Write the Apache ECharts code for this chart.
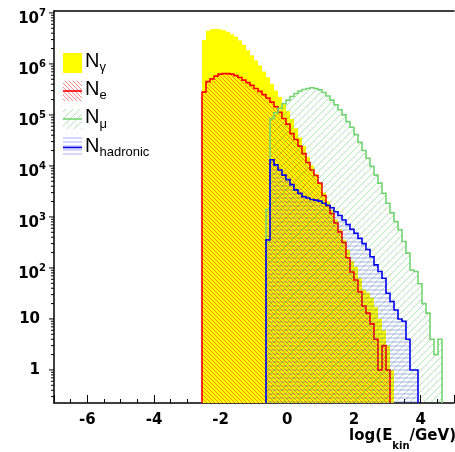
<!DOCTYPE html>
<html>
<head>
<meta charset="utf-8">
<script src="https://cdn.jsdelivr.net/npm/echarts@6/dist/echarts.min.js"></script>
<style>
  html, body { margin: 0; padding: 0; background: #ffffff; }
  #chart { width: 455px; height: 452px; }
</style>
</head>
<body>
<div id="chart"></div>
<script>
// Binning of the kinetic-energy histograms: 100 bins in log10(E_kin/GeV) from -7 to 5
const binLow = -7;
const binWidth = 0.12;

// Particle counts per bin; each list starts at its "first bin" index
const gammaFirstBin = 37;
const gammaCounts = [
  2.95e6, 4.47e6, 4.79e6, 4.90e6, 4.79e6, 4.57e6, 4.27e6, 3.80e6, 3.39e6, 2.88e6,
  2.34e6, 1.86e6, 1.48e6, 1.17e6, 9.3e5, 7.1e5, 5.5e5, 4.1e5, 3.0e5, 2.24e5,
  1.66e5, 1.20e5, 8.3e4, 5.5e4, 3.6e4, 2.45e4, 1.51e4, 1.02e4, 6900, 4700,
  3000, 2040, 1380, 890, 575, 363, 229, 138, 105, 63,
  38, 33, 26, 17, 10, 6, 3, 1
];

const electronFirstBin = 37;
const electronCounts = [
  2.8e5, 4.5e5, 5.1e5, 5.75e5, 6.3e5, 6.45e5, 6.45e5, 6.3e5, 5.9e5, 5.4e5,
  4.8e5, 4.3e5, 3.8e5, 3.3e5, 2.9e5, 2.5e5, 2.14e5, 1.78e5, 1.45e5, 1.12e5,
  8.5e4, 6.6e4, 4.3e4, 3.3e4, 2.45e4, 1.74e4, 1.17e4, 8300, 6500, 4600,
  2630, 1660, 1170, 760, 510, 316, 158, 83, 58, 34,
  18, 13, 8, 4, 1, 3, 1
];

const muonFirstBin = 53;
const muonCounts = [
  1400, 8.5e4, 1.1e5, 1.35e5, 1.66e5, 1.95e5, 2.3e5, 2.63e5, 2.95e5, 3.16e5,
  3.3e5, 3.4e5, 3.3e5, 3.1e5, 2.75e5, 2.35e5, 1.95e5, 1.58e5, 1.26e5, 1.0e5,
  7.4e4, 5.75e4, 4.1e4, 2.9e4, 2.0e4, 1.41e4, 9800, 6600, 4600, 2900,
  1860, 1200, 810, 560, 330, 195, 91, 85, 49, 20,
  13, 4, 2, 4
];

const hadronFirstBin = 53;
const hadronCounts = [
  355, 1.32e4, 1.05e4, 8300, 6600, 5400, 4300, 3400, 2900, 2500,
  2350, 2190, 2140, 2040, 1860, 1700, 1510, 1260, 1070, 870,
  710, 575, 480, 380, 300, 230, 166, 115, 85, 63,
  32, 22, 15, 10, 9, 4, 1, 1
];

// Axis ranges and tick labels
const xMin = -7, xMax = 5;
const yMin = 0.225, yMax = 1.09e7;
const xTickLabels = ['-6', '-4', '-2', '0', '2', '4'];

const FONT = 'DejaVu Sans';
const GREEN_LINE = '#74d474';

// Hatch tiles used as fill patterns
function hatchTile(kind, size, color, lw) {
  const c = document.createElement('canvas');
  c.width = size; c.height = size;
  const g = c.getContext('2d');
  g.strokeStyle = color;
  g.lineWidth = lw;
  g.beginPath();
  if (kind === 'back') {          // "\" lines
    for (let k = -1; k <= 1; k++) { g.moveTo(k * size - 1, -1); g.lineTo(k * size + size + 1, size + 1); }
  } else if (kind === 'fwd') {    // "/" lines
    for (let k = -1; k <= 1; k++) { g.moveTo(k * size - 1, size + 1); g.lineTo(k * size + size + 1, -1); }
  } else {                        // horizontal lines
    g.moveTo(0, size / 2); g.lineTo(size, size / 2);
  }
  g.stroke();
  return c;
}
const redHatch = { image: hatchTile('back', 4, 'rgba(255,0,0,0.45)', 1), repeat: 'repeat' };
const greenHatch = { image: hatchTile('fwd', 7, 'rgba(40,180,40,0.35)', 1), repeat: 'repeat' };
const blueHatch = { image: hatchTile('horiz', 4, 'rgba(40,40,235,0.38)', 1), repeat: 'repeat' };

// Closed step outline of a histogram in pixel space
function stepPoints(api, first, counts) {
  const pts = [];
  const x0 = binLow + first * binWidth;
  pts.push(api.coord([x0, yMin]));
  counts.forEach((c, i) => {
    const xl = binLow + (first + i) * binWidth;
    const xr = xl + binWidth;
    const v = c > 0 ? c : yMin;
    pts.push(api.coord([xl, v]));
    pts.push(api.coord([xr, v]));
  });
  pts.push(api.coord([binLow + (first + counts.length) * binWidth, yMin]));
  return pts;
}

function histSeries(name, first, counts, fill, stroke, lw) {
  return {
    type: 'custom',
    name: name,
    coordinateSystem: 'cartesian2d',
    clip: true,
    silent: true,
    data: [[0, 1]],
    renderItem: function (params, api) {
      const pts = stepPoints(api, first, counts);
      const children = [{
        type: 'polygon',
        shape: { points: pts },
        style: { fill: fill, stroke: null }
      }];
      if (stroke) {
        children.push({
          type: 'polyline',
          shape: { points: pts },
          style: { fill: null, stroke: stroke, lineWidth: lw }
        });
      }
      return { type: 'group', children: children };
    }
  };
}

// Log-axis ticks on the left side (decades and 2..9 sub-divisions)
const yTickSeries = {
  type: 'custom',
  coordinateSystem: 'cartesian2d',
  clip: false,
  silent: true,
  data: [[0, 1]],
  renderItem: function (params, api) {
    const children = [];
    for (let d = -1; d <= 7; d++) {
      for (let m = 1; m <= 9; m++) {
        const v = m * Math.pow(10, d);
        if (v < yMin || v > yMax) continue;
        const p = api.coord([xMin, v]);
        const len = m === 1 ? 5 : 3;
        children.push({
          type: 'line',
          shape: { x1: p[0] - len, y1: p[1], x2: p[0], y2: p[1] },
          style: { stroke: '#000', lineWidth: 1 }
        });
      }
    }
    return { type: 'group', children: children };
  }
};

function legendText(x, y, sub) {
  return {
    type: 'text',
    x: x, y: y,
    style: {
      text: '{n|N}{s|' + sub + '}',
      rich: {
        n: { fontFamily: 'Liberation Sans', fontSize: 20, color: '#000', padding: [0, 0, 3, 0] },
        s: { fontFamily: 'Liberation Sans', fontSize: 13, color: '#000', padding: [10, 0, 0, 0] }
      }
    }
  };
}

const chart = echarts.init(document.getElementById('chart'), null, { renderer: 'canvas' });

const option = {
  animation: false,
  backgroundColor: '#ffffff',
  grid: { left: 54, top: 11, width: 400, height: 392, containLabel: false, outerBoundsMode: 'none' },
  xAxis: [{
    type: 'value',
    min: xMin, max: xMax,
    splitNumber: 6,
    axisLine: { show: true, onZero: false, lineStyle: { color: '#000', width: 1.5 } },
    axisTick: { show: true, inside: true, length: 8, lineStyle: { color: '#000', width: 1 } },
    minorTick: { show: true, splitNumber: 4, length: 4, lineStyle: { color: '#000', width: 1 } },
    splitLine: { show: false },
    axisLabel: {
      showMinLabel: false, showMaxLabel: false,
      margin: 10,
      fontFamily: FONT, fontWeight: 'bold', fontSize: 15, color: '#000',
      formatter: function (v) {
        const s = String(Math.round(v));
        return xTickLabels.indexOf(s) >= 0 ? s : '';
      }
    },
    name: '{b|log(E}{s|kin}{b|/GeV)}',
    nameLocation: 'end',
    nameGap: 2,
    nameTextStyle: {
      align: 'right', verticalAlign: 'top', padding: [18, 0, 0, 0],
      rich: {
        b: { fontFamily: FONT, fontWeight: 'bold', fontSize: 15, color: '#000' },
        s: { fontFamily: FONT, fontWeight: 'bold', fontSize: 10, color: '#000', padding: [20, 0, 0, 0] }
      }
    }
  }, {
    type: 'value',
    position: 'top',
    min: xMin, max: xMax,
    axisLine: { show: true, onZero: false, lineStyle: { color: '#000', width: 1.5 } },
    axisTick: { show: false }, axisLabel: { show: false }, splitLine: { show: false }
  }],
  yAxis: [{
    type: 'log',
    logBase: 10,
    min: yMin, max: yMax,
    axisLine: { show: true, onZero: false, lineStyle: { color: '#000', width: 1.5 } },
    axisTick: { show: false },
    splitLine: { show: false },
    axisLabel: {
      margin: 8,
      fontFamily: FONT, fontWeight: 'bold', fontSize: 15, color: '#000',
      formatter: function (v) {
        const e = Math.log10(v);
        const n = Math.round(e);
        if (Math.abs(e - n) > 1e-6) return '';
        if (n === 0) return '{p|1}';
        if (n === 1) return '{p|10}';
        return '{b|10}{s|' + n + '}';
      },
      rich: {
        p: { fontFamily: FONT, fontWeight: 'bold', fontSize: 15, color: '#000', padding: [0, 6, 0, 0] },
        b: { fontFamily: FONT, fontWeight: 'bold', fontSize: 15, color: '#000', padding: [12, 0, 0, 0] },
        s: { fontFamily: FONT, fontWeight: 'bold', fontSize: 10, color: '#000', padding: [9, 0, 8, 0] }
      }
    }
  }],
  series: [
    histSeries('N_gamma', gammaFirstBin, gammaCounts, '#ffff00', null, 0),
    histSeries('N_e', electronFirstBin, electronCounts, redHatch, '#ff0000', 1.6),
    histSeries('N_mu', muonFirstBin, muonCounts, greenHatch, GREEN_LINE, 1.6),
    histSeries('N_hadronic', hadronFirstBin, hadronCounts, blueHatch, '#0000ee', 1.6),
    yTickSeries
  ],
  graphic: [
    // legend
    { type: 'rect', shape: { x: 63, y: 53, width: 19, height: 20 }, style: { fill: '#ffff00' } },
    { type: 'rect', shape: { x: 63, y: 81, width: 19, height: 20 }, style: { fill: redHatch } },
    { type: 'line', shape: { x1: 63, y1: 91, x2: 82, y2: 91 }, style: { stroke: '#ff0000', lineWidth: 1.6 } },
    { type: 'rect', shape: { x: 63, y: 109, width: 19, height: 20 }, style: { fill: greenHatch } },
    { type: 'line', shape: { x1: 63, y1: 119, x2: 82, y2: 119 }, style: { stroke: GREEN_LINE, lineWidth: 1.6 } },
    { type: 'rect', shape: { x: 63, y: 137, width: 19, height: 20 }, style: { fill: blueHatch } },
    { type: 'line', shape: { x1: 63, y1: 147.5, x2: 82, y2: 147.5 }, style: { stroke: '#0000ee', lineWidth: 1.6 } },
    legendText(85, 51, 'γ'),
    legendText(85, 79.3, 'e'),
    legendText(85, 107.6, 'μ'),
    legendText(85, 136, 'hadronic')
  ]
};

chart.setOption(option);
</script>
</body>
</html>
